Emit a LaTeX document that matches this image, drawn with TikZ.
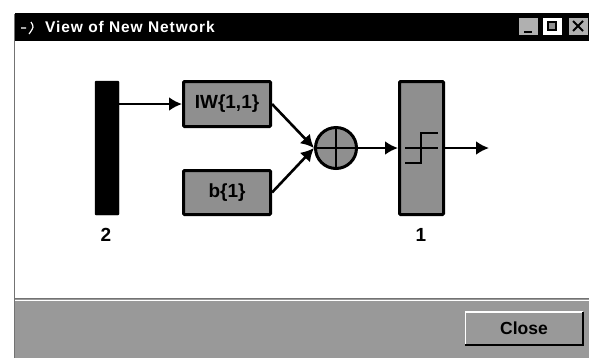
\documentclass[tikz,border=0pt]{standalone}
\usepackage{fontspec}
\setmainfont{Liberation Sans}
\newfontfamily\titlefont[LetterSpace=6]{Liberation Sans}
\usetikzlibrary{arrows.meta}
\definecolor{panelgray}{gray}{0.6}
\definecolor{boxgray}{gray}{0.56}
\definecolor{edgegray}{gray}{0.45}
\tikzset{
  x=1pt,y=-1pt,
  blockbox/.style={draw=black,line width=3pt,fill=boxgray,rounded corners=1pt,inner sep=0pt,font=\bfseries\fontsize{19}{19}\selectfont},
  barbox/.style={fill=black,draw=black,rounded corners=1pt,inner sep=0pt},
  sumcircle/.style={circle,draw=black,line width=3pt,fill=boxgray,inner sep=0pt,minimum size=41pt},
  wire/.style={line width=2.6pt,black},
  flow/.style={wire,-{Latex[length=13pt,width=14pt]}},
  glyph/.style={line width=2.4pt,black},
  dimlabel/.style={font=\bfseries\fontsize{19}{19}\selectfont,inner sep=0pt},
  winbtn/.style={draw=none,inner sep=0pt,minimum width=19pt,minimum height=17pt},
}
\begin{document}
\begin{tikzpicture}
\useasboundingbox (0,0) rectangle (589,360);
\fill[white] (0,0) rectangle (589,360);
% window
\draw[edgegray,line width=1.2pt] (14.5,14) -- (14.5,358);
\fill[black] (15,13) rectangle (589,41);
\fill[panelgray] (15,298) rectangle (589,358);
\draw[edgegray,line width=1pt] (15,298) -- (589,298);
\draw[white,line width=.8pt] (15,300) -- (589,300);
\node[anchor=west,text=white,inner sep=0pt,font=\titlefont\bfseries\fontsize{15.5}{16}\selectfont] (title) at (45,27) {View of New Network};
\draw[white,line width=1.2pt] (21,28) -- (26,28) (31,22) .. controls (34,27) .. (29,34);
% window buttons
\node[winbtn,fill=boxgray!70!white] (minbtn) at (528,26) {};
\node[winbtn,fill=white] (maxbtn) at (552,26) {};
\node[winbtn,fill=boxgray!70!white] (closebtn) at (578,26) {};
\draw[black,line width=2pt] (524,32) -- (532,32);
\draw[black,line width=1.6pt,fill=boxgray] (548,22) rectangle (556,30);
\draw[black,line width=2pt] (573,21) -- (583,31) (583,21) -- (573,31);
% network
\node[barbox,minimum width=24pt,minimum height=134pt] (input) at (107,148) {};
\node[blockbox,minimum width=87pt,minimum height=45pt] (iw) at (227,104) {IW\{1,1\}};
\node[blockbox,minimum width=87pt,minimum height=44pt] (bias) at (227,192.5) {b\{1\}};
\node[sumcircle] (sum) at (336,148) {};
\node[blockbox,minimum width=44pt,minimum height=133pt] (tf) at (421.5,148) {};
\coordinate (out) at (489,148);
\node[dimlabel] (lab2) at (106,235) {2};
\node[dimlabel] (lab1) at (421,235) {1};
\draw[flow] (input.east |- iw.west) -- (iw.west);
\draw[flow] (iw.east) -- (sum.west);
\draw[flow] (bias.east) -- (sum.west);
\draw[flow] (sum.east) -- (tf.west);
\draw[flow] (tf.east) -- (out);
\draw[glyph] (sum.center) ++(-20,0) -- ++(40,0);
\draw[glyph] (sum.center) ++(0,-20) -- ++(0,40);
\draw[glyph] (405,148) -- (438,148);
\draw[glyph] (405,163) -- (421,163) -- (421,133) -- (438,133);
% close button
\node[draw=none,fill=panelgray,minimum width=117pt,minimum height=33pt,inner sep=0pt,font=\bfseries\fontsize{17.5}{18}\selectfont] (closeb) at (524,328.5) {Close};
\draw[white,line width=1.5pt] (closeb.south west) -- (closeb.north west) -- (closeb.north east);
\draw[black,line width=2.4pt] (closeb.south west) -- (closeb.south east) -- (closeb.north east);
\end{tikzpicture}
\end{document}
